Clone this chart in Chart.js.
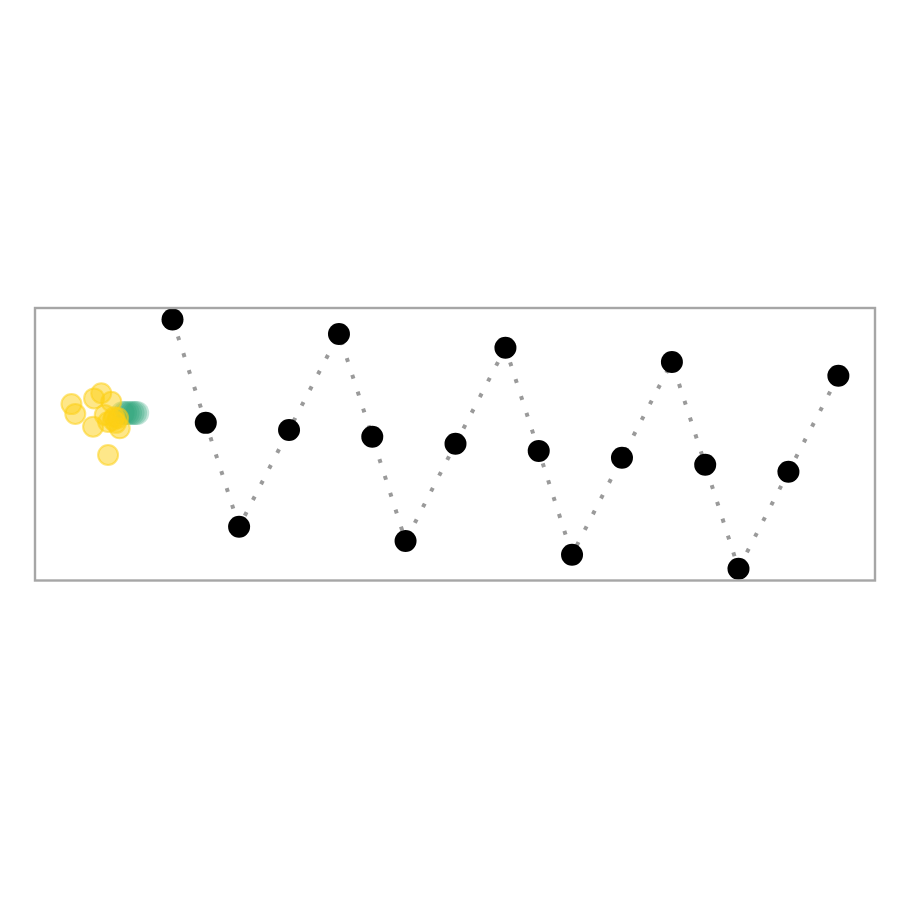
<!DOCTYPE html>
<html>
<head>
<meta charset="utf-8">
<script src="https://cdn.jsdelivr.net/npm/chart.js@4/dist/chart.umd.min.js"></script>
<style>
  html, body { margin: 0; padding: 0; background: #ffffff; }
  #wrap { width: 900px; height: 900px; }
</style>
</head>
<body>
<div id="wrap"><canvas id="c" width="900" height="900"></canvas></div>
<script>
// Main series (black points joined by a dotted line)
const lineX = [0, 2, 4, 7, 10, 12, 14, 17, 20, 22, 24, 27, 30, 32, 34, 37, 40];
const lineY = [9.54, 5.74, 1.92, 5.48, 9.01, 5.23, 1.40, 4.97, 8.50, 4.71, 0.89, 4.46, 7.98, 4.20, 0.38, 3.94, 7.47];

// Yellow cluster
const yellowX = [-6.07, -5.84, -4.71, -4.28, -3.68, -4.77, -4.07, -3.17, -3.57, -3.27, -3.39, -3.87, -3.87, -3.5];
const yellowY = [6.43, 6.07, 6.64, 6.83, 6.52, 5.60, 6.03, 5.54, 5.85, 5.92, 5.74, 5.77, 4.56, 5.95];

// Teal (smeared) cluster
const tealX = [-3.0, -2.85, -2.7, -2.55, -2.4, -2.25, -2.12];
const tealY = [6.1, 6.1, 6.1, 6.1, 6.1, 6.1, 6.1];

const xRange = [-8.2, 42.2];
const yRange = [0, 10];

const pts = (xs, ys) => xs.map((x, i) => ({ x: x, y: ys[i] }));

const framePlugin = {
  id: 'frame',
  afterDraw(chart) {
    const a = chart.chartArea;
    const ctx = chart.ctx;
    ctx.save();
    ctx.strokeStyle = '#a6a6a6';
    ctx.lineWidth = 2.4;
    ctx.strokeRect(a.left - 1, a.top + 1, (a.right - a.left) + 1, (a.bottom - a.top) + 0.5);
    ctx.restore();
  }
};

new Chart(document.getElementById('c'), {
  type: 'scatter',
  data: {
    datasets: [
      {
        data: pts(lineX, lineY),
        showLine: true,
        borderColor: '#9a9a9a',
        borderWidth: 4,
        borderDash: [4, 13.7],
        borderCapStyle: 'butt',
        pointRadius: 11,
        pointBackgroundColor: '#000000',
        pointBorderWidth: 0,
        clip: false
      },
      {
        data: pts(yellowX, yellowY),
        pointRadius: 10,
        pointBackgroundColor: 'rgba(253, 208, 20, 0.5)',
        pointBorderColor: 'rgba(253, 208, 20, 0.55)',
        pointBorderWidth: 2,
        clip: false
      },
      {
        data: pts(tealX, tealY),
        pointRadius: 12,
        pointBackgroundColor: 'rgba(40, 160, 120, 0.28)',
        pointBorderWidth: 0,
        clip: false
      }
    ]
  },
  options: {
    responsive: false,
    animation: false,
    events: [],
    layout: { padding: { left: 36, right: 25, top: 307, bottom: 321 } },
    plugins: { legend: { display: false }, tooltip: { enabled: false } },
    scales: {
      x: { type: 'linear', display: false, min: xRange[0], max: xRange[1] },
      y: { type: 'linear', display: false, min: yRange[0], max: yRange[1] }
    }
  },
  plugins: [framePlugin]
});
</script>
</body>
</html>
